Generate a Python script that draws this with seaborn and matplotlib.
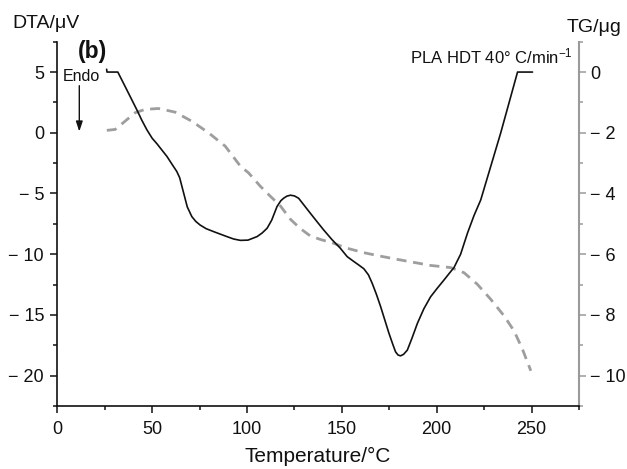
import matplotlib
matplotlib.use("Agg")
import matplotlib.pyplot as plt
from matplotlib.ticker import MultipleLocator, FuncFormatter
import pandas as pd
import seaborn as sns

# DTA signal (µV) against temperature (°C)
dta_temperature = [26.0, 26.2, 31.9, 36.6, 41.9, 44.5, 47.2, 50.0, 52.5, 57.8, 60.5,
                   63.0, 64.5, 66.5, 68.5, 70.9, 73.0, 75.3, 78.5, 82.4, 89.4,
                   93.0, 96.5, 100.5, 105.3, 108.0, 110.6, 113.0, 115.8, 117.8, 119.3,
                   121.0, 122.9, 125.0, 127.2, 130.0, 133.4, 136.8, 140.4, 144.8, 149.2,
                   152.8, 156.3, 159.0, 161.6, 164.0, 166.0, 168.2, 170.4, 172.6, 174.8,
                   176.8, 178.3, 179.6, 180.9, 182.5, 184.5, 187.0, 189.8, 193.2, 196.8,
                   200.3, 203.8, 206.5, 209.1, 212.6, 216.2, 219.7, 223.2, 233.7, 242.6,
                   250.5]
dta_signal = [5.23, 5.0, 5.0, 3.55, 1.9, 1.05, 0.25, -0.45, -0.9, -1.95, -2.6,
              -3.19, -3.7, -4.9, -6.1, -6.9, -7.3, -7.6, -7.9, -8.14, -8.55,
              -8.75, -8.86, -8.84, -8.55, -8.25, -7.86, -7.2, -6.08, -5.6, -5.39,
              -5.22, -5.14, -5.2, -5.39, -5.95, -6.63, -7.3, -8.0, -8.8, -9.51,
              -10.2, -10.6, -10.9, -11.2, -11.7, -12.4, -13.3, -14.3, -15.4, -16.5,
              -17.4, -18.04, -18.3, -18.37, -18.25, -17.9, -16.9, -15.7, -14.5, -13.5,
              -12.8, -12.13, -11.6, -11.1, -10.0, -8.27, -6.8, -5.53, -0.03, 5.0,
              5.0]

# TG mass change (µg) against temperature (°C)
tg_temperature = [26.1, 30.5, 35.7, 41.0, 46.3, 53.3, 62.1, 70.9, 79.7, 88.5,
                  96.5, 100.8, 107.0, 112.3, 117.6, 122.9, 128.0, 133.4, 139.0, 145.7,
                  152.0, 161.6, 170.0, 179.2, 188.0, 196.8, 207.3, 214.4, 221.4, 228.4,
                  235.5, 240.8, 245.2, 249.6]
tg_mass = [-1.92, -1.89, -1.62, -1.34, -1.23, -1.20, -1.32, -1.62, -2.0, -2.44,
           -3.10, -3.32, -3.76, -4.09, -4.41, -4.85, -5.15, -5.40, -5.52, -5.64,
           -5.79, -5.95, -6.06, -6.17, -6.27, -6.37, -6.44, -6.61, -6.99, -7.48,
           -8.03, -8.53, -9.13, -9.84]

sns.set_style("ticks")
plt.rcParams["font.family"] = ["Liberation Sans", "DejaVu Sans"]
plt.rcParams.update({
    "mathtext.fontset": "custom",
    "mathtext.rm": "Liberation Sans",
    "mathtext.it": "Liberation Sans:italic",
    "mathtext.bf": "Liberation Sans:bold",
})

W, H = 627, 469
fig = plt.figure(figsize=(W / 100, H / 100), dpi=100)
ax = fig.add_axes([57.3 / W, 1 - 406 / H, (579 - 57.3) / W, (406 - 41.7) / H])
ax2 = ax.twinx()
ax.set_zorder(ax2.get_zorder() + 1)
ax.patch.set_visible(False)

dta = pd.DataFrame({"temperature": dta_temperature, "signal": dta_signal})
tg = pd.DataFrame({"temperature": tg_temperature, "mass": tg_mass})

sns.lineplot(data=dta, x="temperature", y="signal", ax=ax, color="#111111",
             lw=1.2, sort=False, estimator=None)
sns.lineplot(data=tg, x="temperature", y="mass", ax=ax2, color="#9e9e9e",
             lw=2.0, linestyle=(0, (3.6, 2.4)), sort=False, estimator=None)

ax.set_xlim(0, 275)
ax.set_ylim(-22.5, 7.5)
ax2.set_ylim(-11, 1)

ax.xaxis.set_major_locator(MultipleLocator(50))
ax.xaxis.set_minor_locator(MultipleLocator(25))
ax.yaxis.set_major_locator(MultipleLocator(5))
ax.yaxis.set_minor_locator(MultipleLocator(2.5))
ax2.yaxis.set_major_locator(MultipleLocator(2))
ax2.yaxis.set_minor_locator(MultipleLocator(1))


def signed(v, pos):
    return f"\u2212 {abs(v):g}" if v < 0 else f"{v:g}"


ax.yaxis.set_major_formatter(FuncFormatter(signed))
ax2.yaxis.set_major_formatter(FuncFormatter(signed))

ax.tick_params(which="both", direction="out", width=1.1, color="#111111",
               labelsize=13, labelcolor="#111111")
ax.tick_params(which="major", length=5)
ax.tick_params(which="minor", length=3)
ax.tick_params(axis="y", pad=4.5)
ax.tick_params(axis="x", pad=5.5)
ax2.tick_params(which="both", direction="out", width=1.1, color="#9a9a9a",
                labelsize=13, labelcolor="#111111", pad=3)
ax2.tick_params(which="major", length=5)
ax2.tick_params(which="minor", length=3)

for side in ("top", "right"):
    ax.spines[side].set_visible(False)
for side in ("left", "bottom"):
    ax.spines[side].set_linewidth(1.2)
    ax.spines[side].set_color("#111111")
for side in ("top", "left", "bottom"):
    ax2.spines[side].set_visible(False)
ax2.spines["right"].set_color("#9a9a9a")
ax2.spines["right"].set_linewidth(1.5)

ax.set_xlabel("Temperature/°C", fontsize=15, labelpad=7, color="#111111")
ax.set_ylabel("DTA/\u03bcV", rotation=0, ha="left", va="baseline",
              fontsize=14, color="#111111")
ax.yaxis.set_label_coords(12 / W, 1 - 28 / H, transform=fig.transFigure)
ax2.set_ylabel("TG/\u03bcg", rotation=0, ha="left", va="baseline",
               fontsize=14, color="#111111")
ax2.yaxis.set_label_coords(566.7 / W, 1 - 31.7 / H, transform=fig.transFigure)

ax.text(10.9, 6.16, "(b)", fontsize=16.5, fontweight="bold", ha="left",
        va="baseline", color="#111111")
ax.text(3.0, 4.27, "Endo", fontsize=11.5, ha="left", va="baseline",
        color="#111111")
ax.annotate("", xy=(11.6, 0.1), xytext=(11.6, 3.88),
            arrowprops=dict(arrowstyle="-|>,head_length=0.6,head_width=0.2",
                            color="#111111", lw=1.0, shrinkA=0, shrinkB=0,
                            mutation_scale=10))
ax.text(271.6, 5.75, "PLA HDT 40° C/min$^{-1}$", fontsize=12, ha="right",
        va="baseline", color="#111111")

fig.savefig("out.png", dpi=100)
